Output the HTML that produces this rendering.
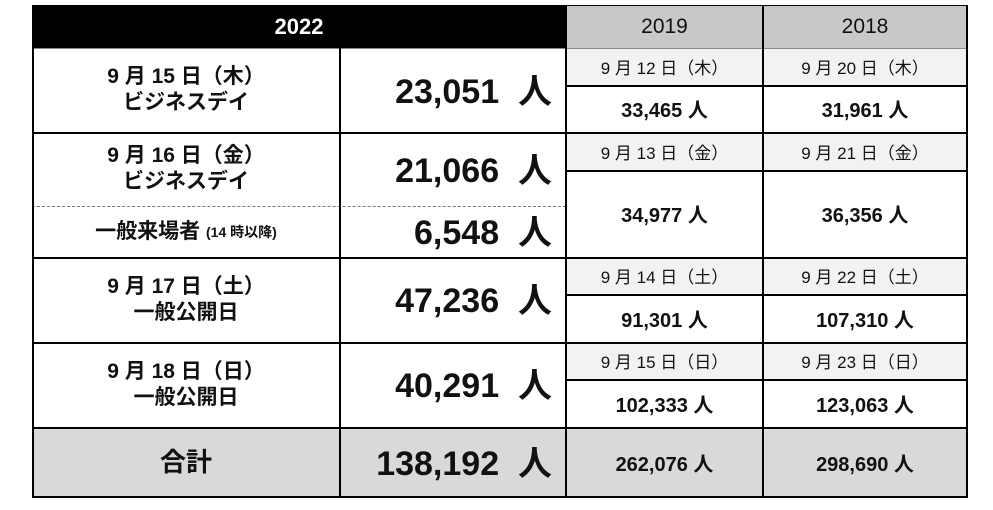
<!DOCTYPE html>
<html><head><meta charset="utf-8"><style>
body{margin:0;width:993px;height:510px;background:#fff;position:relative;overflow:hidden;font-family:"Liberation Sans","Noto Sans CJK JP",sans-serif;color:#111}
.c{position:absolute;box-sizing:border-box;display:flex;align-items:center;justify-content:center;text-align:center}
.hl{position:absolute;background:#000}
.b{font-weight:bold}
.big{font-size:34px;font-weight:bold;justify-content:flex-end;padding-right:14px;padding-bottom:4px}
.lab{font-size:21px;font-weight:bold;line-height:26px}
.sub{background:#f2f2f2;font-size:17px}
.val{font-size:20px;font-weight:bold}
</style></head><body>
<div class="c b" style="left:32px;top:5px;width:534px;height:43px;background:#000;color:#fff;font-size:22px">2022</div>
<div class="c" style="left:566px;top:5px;width:197px;height:43px;background:#c8c8c8;font-size:21px">2019</div>
<div class="c" style="left:763px;top:5px;width:204px;height:43px;background:#c8c8c8;font-size:21px">2018</div>
<div class="c" style="left:32px;top:427px;width:935px;height:70px;background:#d9d9d9"></div>

<div class="c lab" style="left:32px;top:48px;width:308px;height:84px">9 月 15 日（木）<br>ビジネスデイ</div>
<div class="c big" style="left:340px;top:48px;width:226px;height:84px">23,051&nbsp; 人</div>
<div class="c lab" style="left:32px;top:132px;width:308px;height:74px">9 月 16 日（金）<br>ビジネスデイ</div>
<div class="c big" style="left:340px;top:132px;width:226px;height:74px">21,066&nbsp; 人</div>
<div class="c lab" style="left:32px;top:206px;width:308px;height:51px">一般来場者&nbsp; <span style="font-size:14px">(14 時以降)</span></div>
<div class="c big" style="left:340px;top:206px;width:226px;height:51px">6,548&nbsp; 人</div>
<div class="c lab" style="left:32px;top:257px;width:308px;height:85px">9 月 17 日（土）<br>一般公開日</div>
<div class="c big" style="left:340px;top:257px;width:226px;height:85px">47,236&nbsp; 人</div>
<div class="c lab" style="left:32px;top:342px;width:308px;height:85px">9 月 18 日（日）<br>一般公開日</div>
<div class="c big" style="left:340px;top:342px;width:226px;height:85px">40,291&nbsp; 人</div>
<div class="c lab" style="left:32px;top:427px;width:308px;height:70px;font-size:26px">合計</div>
<div class="c big" style="left:340px;top:427px;width:226px;height:70px">138,192&nbsp; 人</div>

<div class="c sub" style="left:566px;top:48px;width:197px;height:37px">9 月 12 日（木）</div>
<div class="c sub" style="left:763px;top:48px;width:204px;height:37px">9 月 20 日（木）</div>
<div class="c val" style="left:566px;top:85px;width:197px;height:47px">33,465 人</div>
<div class="c val" style="left:763px;top:85px;width:204px;height:47px">31,961 人</div>
<div class="c sub" style="left:566px;top:132px;width:197px;height:38px">9 月 13 日（金）</div>
<div class="c sub" style="left:763px;top:132px;width:204px;height:38px">9 月 21 日（金）</div>
<div class="c val" style="left:566px;top:170px;width:197px;height:87px">34,977 人</div>
<div class="c val" style="left:763px;top:170px;width:204px;height:87px">36,356 人</div>
<div class="c sub" style="left:566px;top:257px;width:197px;height:37px">9 月 14 日（土）</div>
<div class="c sub" style="left:763px;top:257px;width:204px;height:37px">9 月 22 日（土）</div>
<div class="c val" style="left:566px;top:294px;width:197px;height:48px">91,301 人</div>
<div class="c val" style="left:763px;top:294px;width:204px;height:48px">107,310 人</div>
<div class="c sub" style="left:566px;top:342px;width:197px;height:37px">9 月 15 日（日）</div>
<div class="c sub" style="left:763px;top:342px;width:204px;height:37px">9 月 23 日（日）</div>
<div class="c val" style="left:566px;top:379px;width:197px;height:48px">102,333 人</div>
<div class="c val" style="left:763px;top:379px;width:204px;height:48px">123,063 人</div>
<div class="c val" style="left:566px;top:427px;width:197px;height:70px">262,076 人</div>
<div class="c val" style="left:763px;top:427px;width:204px;height:70px">298,690 人</div>

<div class="hl" style="left:32px;top:5px;width:935px;height:1px"></div>
<div class="hl" style="left:32px;top:48px;width:935px;height:1px;background:#888"></div>
<div class="hl" style="left:32px;top:132px;width:935px;height:2px"></div>
<div class="hl" style="left:32px;top:257px;width:935px;height:2px"></div>
<div class="hl" style="left:32px;top:342px;width:935px;height:2px"></div>
<div class="hl" style="left:32px;top:427px;width:935px;height:2px"></div>
<div class="hl" style="left:32px;top:496px;width:935px;height:2px"></div>
<div class="hl" style="left:566px;top:85px;width:401px;height:2px"></div>
<div class="hl" style="left:566px;top:170px;width:401px;height:2px"></div>
<div class="hl" style="left:566px;top:294px;width:401px;height:2px"></div>
<div class="hl" style="left:566px;top:379px;width:401px;height:2px"></div>
<div style="position:absolute;left:32px;top:206px;width:534px;border-top:1px dashed #777"></div>
<div class="hl" style="left:32px;top:5px;width:2px;height:493px"></div>
<div class="hl" style="left:339px;top:48px;width:2px;height:450px"></div>
<div class="hl" style="left:565px;top:5px;width:2px;height:493px"></div>
<div class="hl" style="left:762px;top:5px;width:2px;height:493px"></div>
<div class="hl" style="left:966px;top:5px;width:2px;height:493px"></div>
</body></html>
